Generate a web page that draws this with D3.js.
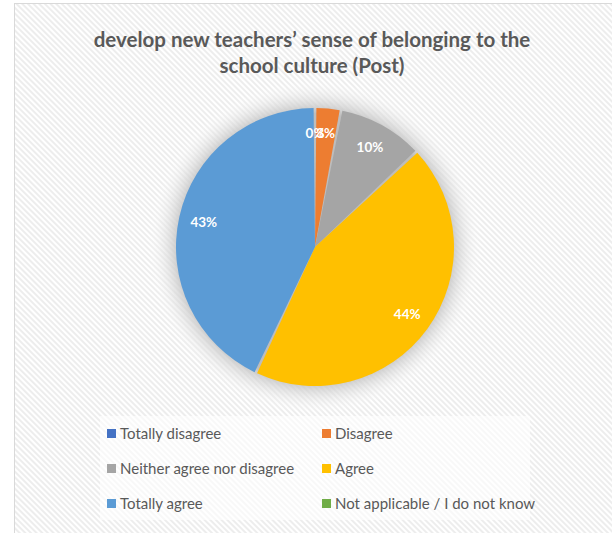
<!DOCTYPE html>
<html>
<head>
<meta charset="utf-8">
<script src="https://cdn.jsdelivr.net/npm/d3@7"></script>
<style>
  body { margin: 0; background: #fff; }
  text { font-family: Lato, "Open Sans", sans-serif; }
</style>
</head>
<body>
<div id="chart"></div>
<script>
// DATA-----------------------------------------------------------------
const categories = ["Totally disagree", "Disagree", "Neither agree nor disagree", "Agree", "Totally agree", "Not applicable / I do not know"]
const values = [0, 3, 10, 44, 43, 0]
const colors = ["#4472C4", "#ED7D31", "#A5A5A5", "#FFC000", "#5B9BD5", "#70AD47"]
const titleLines = ["develop new teachers’ sense of belonging to the", "school culture (Post)"]

const W = 612, H = 533
const CX = 315, CY = 247, R = 139

const svg = d3.select("#chart").append("svg")
  .attr("width", W).attr("height", H)

const defs = svg.append("defs")
const pat = defs.append("pattern")
  .attr("id", "stripes")
  .attr("patternUnits", "userSpaceOnUse")
  .attr("width", 4).attr("height", 4)
  .attr("patternTransform", "rotate(-45)")
pat.append("rect").attr("width", 4).attr("height", 4).attr("fill", "#ffffff")
pat.append("rect").attr("width", 2).attr("height", 4).attr("fill", "#ededed")

const glow = defs.append("radialGradient").attr("id", "glow")
glow.append("stop").attr("offset", "0.8").attr("stop-color", "#bdbdbd").attr("stop-opacity", 1)
glow.append("stop").attr("offset", "1").attr("stop-color", "#ffffff").attr("stop-opacity", 0)

// chart area
svg.append("rect")
  .attr("x", 14.5).attr("y", 3.5)
  .attr("width", W).attr("height", H)
  .attr("fill", "url(#stripes)")
  .attr("stroke", "#d9d9d9")

// TITLE
svg.append("g").selectAll("text").data(titleLines).join("text")
  .attr("x", 312).attr("y", (d, i) => 47 + i * 26)
  .attr("text-anchor", "middle")
  .attr("font-size", 20.5).attr("font-weight", "bold")
  .attr("fill", "#595959")
  .text(d => d)

// PIE------------------------------------------------------------------
svg.append("circle").attr("cx", CX).attr("cy", CY).attr("r", R * 1.2)
  .attr("fill", "url(#glow)")

const pie = d3.pie().sort(null).value(d => d.v)
const arcs = pie(values.map((v, i) => ({ v: v, c: colors[i], name: categories[i] })))
const arc = d3.arc().innerRadius(0).outerRadius(R).padAngle(0.02).padRadius(R)
const labelArc = d3.arc().innerRadius(R * 0.82).outerRadius(R * 0.82)

const g = svg.append("g").attr("transform", `translate(${CX}, ${CY})`)
g.selectAll("path").data(arcs.filter(d => d.data.v > 0)).join("path")
  .attr("d", arc)
  .attr("fill", d => d.data.c)

g.selectAll("text").data(arcs.slice(0, 5)).join("text")
  .attr("transform", d => `translate(${labelArc.centroid(d)})`)
  .attr("text-anchor", "middle")
  .attr("dy", "0.35em")
  .attr("font-size", 13.5).attr("font-weight", "bold")
  .attr("fill", "#ffffff")
  .text(d => d.data.v + "%")

// LEGEND---------------------------------------------------------------
svg.append("rect").attr("x", 100).attr("y", 416).attr("width", 430).attr("height", 104)
  .attr("fill", "#ffffff").attr("opacity", 0.6)

const leg = svg.append("g").selectAll("g").data(categories).join("g")
  .attr("transform", (d, i) => `translate(${i % 2 === 0 ? 107 : 322}, ${434 + Math.floor(i / 2) * 35})`)
leg.append("rect").attr("x", 0).attr("y", -5).attr("width", 9).attr("height", 9)
  .attr("fill", (d, i) => colors[i])
leg.append("text").attr("x", 13).attr("dy", "0.35em")
  .attr("font-size", 15).attr("fill", "#595959")
  .text(d => d)
</script>
</body>
</html>
